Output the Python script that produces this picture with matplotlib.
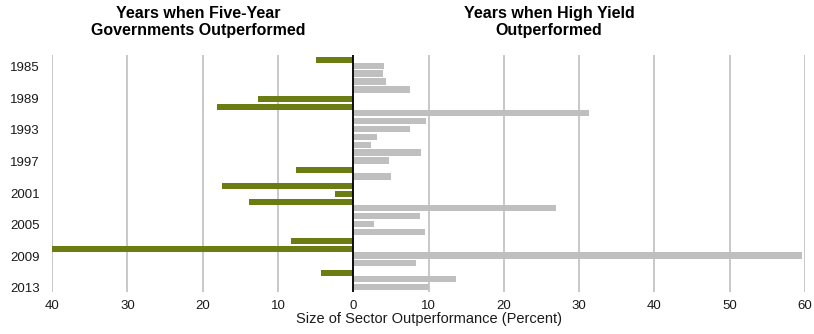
import numpy as np
import matplotlib
matplotlib.use("Agg")
import matplotlib.pyplot as plt
from matplotlib.ticker import FuncFormatter

plt.rcParams['font.family'] = ['Liberation Sans', 'DejaVu Sans']

years = list(range(1984, 2014))
# positive = high yield outperformed, negative = five-year governments outperformed
gov_years = [1984, 1989, 1990, 1998, 2000, 2001, 2002, 2007, 2008, 2011]
gov_values = [5.0, 12.6, 18.1, 7.6, 17.4, 2.4, 13.8, 8.3, 40.0, 4.3]
hy_years = [1985, 1986, 1987, 1988, 1991, 1992, 1993, 1994, 1995, 1996, 1997,
            1999, 2003, 2004, 2005, 2006, 2009, 2010, 2012, 2013]
hy_values = [4.1, 4.0, 4.3, 7.5, 31.3, 9.6, 7.5, 3.1, 2.3, 9.0, 4.8,
             5.0, 26.9, 8.8, 2.7, 9.5, 59.6, 8.3, 13.6, 10.0]
label_years = [1985, 1989, 1993, 1997, 2001, 2005, 2009, 2013]

green = '#6b7c12'
grey = '#bfbfbf'

fig = plt.figure(figsize=(8.14, 3.34), dpi=100)
ax = fig.add_axes([0.064, 0.126, 0.925, 0.71])

gov_pos = np.array([years.index(y) for y in gov_years]) + 0.12
hy_pos = np.array([years.index(y) for y in hy_years]) - 0.12
ax.barh(gov_pos, -np.array(gov_values), height=0.76, color=green, zorder=3)
ax.barh(hy_pos, hy_values, height=0.8, color=grey, zorder=3)

ax.set_xlim(-40, 60)
ax.set_ylim(29.5, -0.5)
ax.set_xticks(range(-40, 61, 10))
ax.xaxis.set_major_formatter(FuncFormatter(lambda v, p: f"{abs(v):.0f}"))
ax.set_yticks([years.index(y) for y in label_years])
ax.set_yticklabels([str(y) for y in label_years])

ax.grid(axis='x', color='#c8c8c8', linewidth=1.4, zorder=0)
ax.axvline(0, color='black', linewidth=1.3, zorder=4)
for s in ax.spines.values():
    s.set_visible(False)
ax.tick_params(axis='both', length=0, labelsize=9.5, colors='#1a1a1a')
ax.tick_params(axis='x', pad=6)
ax.tick_params(axis='y', pad=9)
ax.set_xlabel('Size of Sector Outperformance (Percent)', fontsize=10.5,
              color='#1a1a1a', labelpad=0)

fig.text(198 / 814, 1 - 22 / 334, 'Years when Five-Year\nGovernments Outperformed',
         ha='center', va='center', fontsize=11.5, fontweight='bold', linespacing=1.2)
fig.text(549 / 814, 1 - 22 / 334, 'Years when High Yield\nOutperformed',
         ha='center', va='center', fontsize=11.5, fontweight='bold', linespacing=1.2)

fig.savefig('out.png', dpi=100)
